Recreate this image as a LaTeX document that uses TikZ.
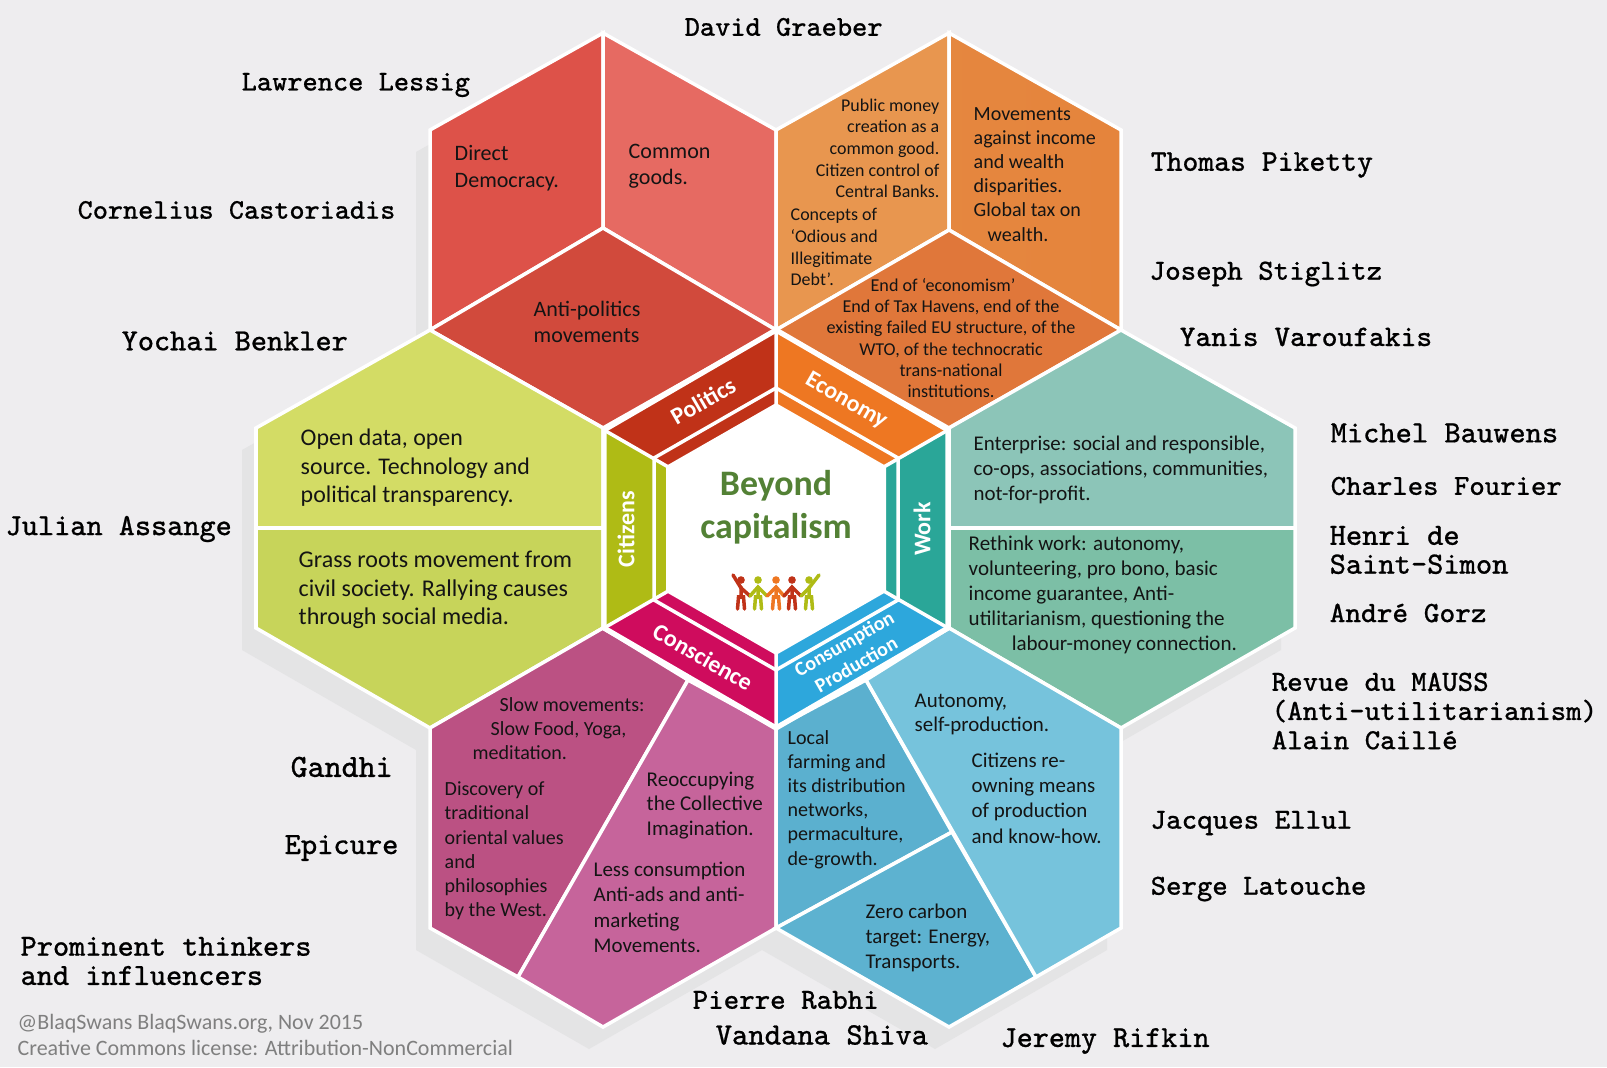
\documentclass[tikz,border=0pt]{standalone}
\usepackage{fontspec}
\setmainfont{Carlito}
\newfontfamily\thinkerfont[FakeBold=0.7]{Latin Modern Mono}
\usetikzlibrary{calc}
\definecolor{PageGrey}{HTML}{EEEDEF}
\definecolor{ShadowGrey}{HTML}{E4E4E5}
\definecolor{InkGrey}{HTML}{7F7F7F}
\definecolor{TitleGreen}{HTML}{538135}
\definecolor{PoliticsRing}{HTML}{C03218}
\definecolor{PoliticsA}{HTML}{DD5249}
\definecolor{PoliticsB}{HTML}{E66A62}
\definecolor{PoliticsC}{HTML}{D14A3C}
\definecolor{EconomyRing}{HTML}{EE7722}
\definecolor{EconomyA}{HTML}{E8964F}
\definecolor{EconomyB}{HTML}{E5843C}
\definecolor{EconomyC}{HTML}{E0773A}
\definecolor{WorkRing}{HTML}{2AA698}
\definecolor{WorkA}{HTML}{8CC5B8}
\definecolor{WorkB}{HTML}{7CBFA6}
\definecolor{CitizensRing}{HTML}{AFBB15}
\definecolor{CitizensA}{HTML}{D3DC65}
\definecolor{CitizensB}{HTML}{C7D45A}
\definecolor{ConscienceRing}{HTML}{CF0C5D}
\definecolor{ConscienceA}{HTML}{BB5183}
\definecolor{ConscienceB}{HTML}{C6649B}
\definecolor{ConsumptionRing}{HTML}{2DA7DC}
\definecolor{ConsumptionA}{HTML}{5BB0CF}
\definecolor{ConsumptionB}{HTML}{76C3DC}
\tikzset{
  panel/.style={draw=white,line width=1pt,line join=miter},
  txt/.style 2 args={anchor=north west,align=left,text=black!92,inner sep=0pt,font=\fontsize{#1}{#2}\selectfont},
  thinker/.style={anchor=west,align=left,inner sep=0pt,font=\fontsize{#1}{8.2}\thinkerfont\selectfont},
  thinker/.default=8.3,
  ringtxt/.style={white,inner sep=0pt,align=center,font=\fontsize{6.8}{7.4}\bfseries\selectfont},
  people/.style={line width=1pt,line cap=round}
}
\newcommand{\personfig}[2]{%
  \fill[#2] (#1,580) circle (3.8);
  \draw[people,#2] (#1,587) -- (#1,597) (#1-3.5,609) -- (#1-2.5,597) -- (#1+2.5,597) -- (#1+3.5,609);
}
\begin{document}
\begin{tikzpicture}[x=0.01cm,y=-0.01cm]
  \useasboundingbox (0,0) rectangle (1607,1067);
  \fill[PageGrey] (0,0) rectangle (1607,1067);

  % Shadow of the whole cluster
  \fill[ShadowGrey,shift={(-14,22)}] (603,33) -- (776,130) -- (949,33) -- (1121,130) -- (1121,330) -- (1295,428) -- (1295,628) -- (1121,728) -- (1121,928) -- (949,1027) -- (776,928) -- (603,1027) -- (430,928) -- (430,728) -- (256,628) -- (256,428) -- (430,330) -- (430,130) -- cycle;

  % Politics hexagon
  \path[panel,fill=PoliticsA] (603,33) -- (430,130) -- (430,330) -- (603,228) -- cycle;
  \path[panel,fill=PoliticsB] (603,33) -- (776,130) -- (776,330) -- (603,228) -- cycle;
  \path[panel,fill=PoliticsC] (603,228) -- (776,330) -- (603,428) -- (430,330) -- cycle;

  % Economy hexagon
  \path[panel,fill=EconomyA] (949,33) -- (776,130) -- (776,330) -- (949,230) -- cycle;
  \path[panel,left color=EconomyB!85!EconomyA,right color=EconomyB] (949,33) -- (1121,130) -- (1121,330) -- (949,230) -- cycle;
  \path[panel,fill=EconomyC] (949,230) -- (1121,330) -- (949,428) -- (776,330) -- cycle;

  % Citizens hexagon
  \path[panel,fill=CitizensA] (430,330) -- (603,428) -- (603,528) -- (256,528) -- (256,428) -- cycle;
  \path[panel,fill=CitizensB] (256,528) -- (603,528) -- (603,628) -- (430,728) -- (256,628) -- cycle;

  % Work hexagon
  \path[panel,fill=WorkA] (1121,330) -- (1295,428) -- (1295,528) -- (949,528) -- (949,428) -- cycle;
  \path[panel,fill=WorkB] (949,528) -- (1295,528) -- (1295,628) -- (1121,728) -- (949,628) -- cycle;

  % Conscience hexagon
  \path[panel,fill=ConscienceA] (603,628) -- (430,728) -- (430,928) -- (518,977) -- (688,680) -- cycle;
  \path[panel,fill=ConscienceB] (688,680) -- (776,728) -- (776,928) -- (603,1027) -- (518,977) -- cycle;

  % Consumption hexagon
  \path[panel,fill=ConsumptionA] (776,728) -- (866,680) -- (952,832) -- (776,928) -- cycle;
  \path[panel,fill=ConsumptionA!92!ConsumptionB] (952,832) -- (1036,977) -- (949,1027) -- (776,928) -- cycle;
  \path[panel,fill=ConsumptionB] (866,680) -- (949,628) -- (1121,728) -- (1121,928) -- (1036,977) -- cycle;

  % Ring round the middle
  \fill[PoliticsRing] (776,529) -- (604,430) -- (776,330) -- cycle;
  \fill[EconomyRing] (776,529) -- (776,330) -- (948,430) -- cycle;
  \fill[WorkRing] (776,529) -- (948,430) -- (948,628) -- cycle;
  \fill[ConsumptionRing] (776,529) -- (948,628) -- (776,728) -- cycle;
  \fill[ConscienceRing] (776,529) -- (776,728) -- (604,628) -- cycle;
  \fill[CitizensRing] (776,529) -- (604,628) -- (604,430) -- cycle;
  \draw[panel,line width=1.5pt] (776,330) -- (948,430) -- (948,628) -- (776,728) -- (604,628) -- (604,430) -- cycle;
  \draw[panel] (776,330) -- (776,728) (604,430) -- (948,628) (948,430) -- (604,628);
  \draw[panel] (776,388) -- (898,458) -- (898,600) -- (776,670) -- (654,600) -- (654,458) -- cycle;
  \fill[white] (776,403) -- (886,466) -- (886,592) -- (776,655) -- (666,592) -- (666,466) -- cycle;

  % Ring labels
  \node[ringtxt,rotate=30] (politics) at (703,401) {Politics};
  \node[ringtxt,rotate=-30] (economy) at (846,401) {Economy};
  \node[ringtxt,rotate=90] (citizens) at (626,529) {Citizens};
  \node[ringtxt,rotate=90] (work) at (922,529) {Work};
  \node[ringtxt,rotate=-30] (conscience) at (703,657) {Conscience};
  \node[ringtxt,rotate=30,font=\fontsize{5.7}{6.8}\bfseries\selectfont] (consumption) at (850,654) {Consumption\\Production};

  % Middle
  \node[TitleGreen,align=center,inner sep=0pt,font=\fontsize{10.2}{12.3}\bfseries\selectfont] (title) at (776,507) {Beyond\\capitalism};
  \draw[people,PoliticsRing] (733,575) -- (741,588) -- (750,596);
  \draw[people,CitizensRing] (750,596) -- (758,587) -- (767,596);
  \draw[people,EconomyRing] (767,596) -- (776,587) -- (784,596);
  \draw[people,PoliticsRing] (784,596) -- (792,587) -- (801,596);
  \draw[people,CitizensRing] (801,596) -- (809,588) -- (819,575);
  \personfig{741}{PoliticsRing}
  \personfig{758}{CitizensRing}
  \personfig{776}{EconomyRing}
  \personfig{792}{PoliticsRing}
  \personfig{809}{CitizensRing}

  % Panel texts
  \node[txt={6.27}{7.6}] (direct) at (454,145) {Direct\\Democracy.};
  \node[txt={6.27}{7.6}] (goods) at (628,143) {Common\\goods.};
  \node[txt={6.27}{7.6}] (antipol) at (533,300) {Anti-politics\\movements};
  \node[txt={5.1}{6.15}, anchor=north east,align=right] (money) at (940,98) {Public money\\creation as a\\common good.\\Citizen control of\\Central Banks.};
  \node[txt={5.1}{6.15}] (odious) at (790,208) {Concepts of\\‘Odious and\\Illegitimate\\Debt’.};
  \node[txt={5.7}{6.85}] (income) at (973,107) {Movements\\against income\\and wealth\\disparities.\\Global tax on\\\hspace*{1.4mm}wealth.};
  \node[txt={5.15}{6.0},anchor=north,align=center] (havens) at (951,278) {End of ‘economism’\hspace*{1.6mm}\\End of Tax Havens, end of the\\existing failed EU structure, of the\\WTO, of the technocratic\\trans-national\\institutions.};
  \node[txt={6.8}{8.2}] (opendata) at (300,428) {Open data, open\\source. Technology and\\political transparency.};
  \node[txt={6.83}{8.2}] (roots) at (298,550) {Grass roots movement from\\civil society. Rallying causes\\through social media.};
  \node[txt={5.95}{7.15}] (enterprise) at (973,435) {Enterprise: social and responsible,\\co-ops, associations, communities,\\not-for-profit.};
  \node[txt={5.98}{7.15}] (rethink) at (968,535) {Rethink work: autonomy,\\volunteering, pro bono, basic\\income guarantee, Anti-\\utilitarianism, questioning the\\\hspace*{4.3mm}labour-money connection.};
  \node[txt={5.7}{6.85}] (slow) at (472,697) {\hspace*{2.7mm}Slow movements:\\\hspace*{1.8mm}Slow Food, Yoga,\\meditation.};
  \node[txt={5.7}{6.9}] (oriental) at (444,781) {Discovery of\\traditional\\oriental values\\and\\philosophies\\by the West.};
  \node[txt={5.98}{7.0}] (collective) at (646,771) {Reoccupying\\the Collective\\Imagination.};
  \node[txt={5.96}{7.25}] (lessuse) at (593,861) {Less consumption\\Anti-ads and anti-\\marketing\\Movements.};
  \node[txt={5.7}{6.85}] (farming) at (787,730) {Local\\farming and\\its distribution\\networks,\\permaculture,\\de-growth.};
  \node[txt={5.95}{7.0}] (autonomy) at (914,693) {Autonomy,\\self-production.};
  \node[txt={5.95}{7.2}] (owning) at (971,752) {Citizens re-\\owning means\\of production\\and know-how.};
  \node[txt={5.95}{7.1}] (carbon) at (865,903) {Zero carbon\\target: Energy,\\Transports.};

  % Thinkers
  \node[thinker=8.15] (graeber) at (684,27) {David Graeber};
  \node[thinker=8.15] (lessig) at (241,85) {Lawrence Lessig};
  \node[thinker=8.1] (castoriadis) at (77,210) {Cornelius Castoriadis};
  \node[thinker=8.75] (benkler) at (121,341) {Yochai Benkler};
  \node[thinker=8.75] (assange) at (5,529) {Julian Assange};
  \node[thinker=8.6] (piketty) at (1150,165) {Thomas Piketty};
  \node[thinker=8.3] (stiglitz) at (1149,274) {Joseph Stiglitz};
  \node[thinker=8.45] (varoufakis) at (1179,337) {Yanis Varoufakis};
  \node[thinker=8.8] (bauwens) at (1330,433) {Michel Bauwens};
  \node[thinker=8.25] (fourier) at (1330,486) {Charles Fourier};
  \node[thinker=8.8] (simon) at (1329,550) {Henri de\\Saint-Simon};
  \node[thinker=8.4] (gorz) at (1329,613) {André Gorz};
  \node[thinker=8.3] (mauss) at (1271,711) {Revue du MAUSS\\[0.1pt](Anti-utilitarianism)\\[0.1pt]Alain Caillé};
  \node[thinker=8.3] (ellul) at (1150,823) {Jacques Ellul};
  \node[thinker=8.25] (latouche) at (1150,889) {Serge Latouche};
  \node[thinker=9.2] (gandhi) at (290,767) {Gandhi};
  \node[thinker=8.8] (epicure) at (284,848) {Epicure};
  \node[thinker=8.75] (prominent) at (20,961) {Prominent thinkers\\[0.1pt]and influencers};
  \node[thinker=8.3] (rabhi) at (692,1000) {Pierre Rabhi};
  \node[thinker=8.85] (shiva) at (715,1035) {Vandana Shiva};
  \node[thinker=8.7] (rifkin) at (1000,1041) {Jeremy Rifkin};

  % Credit
  \node[anchor=west,InkGrey,align=left,inner sep=0pt,font=\fontsize{6.25}{7.5}\selectfont] (credit) at (17,1035) {@BlaqSwans BlaqSwans.org, Nov 2015\\Creative Commons license: Attribution-NonCommercial};
\end{tikzpicture}
\end{document}
